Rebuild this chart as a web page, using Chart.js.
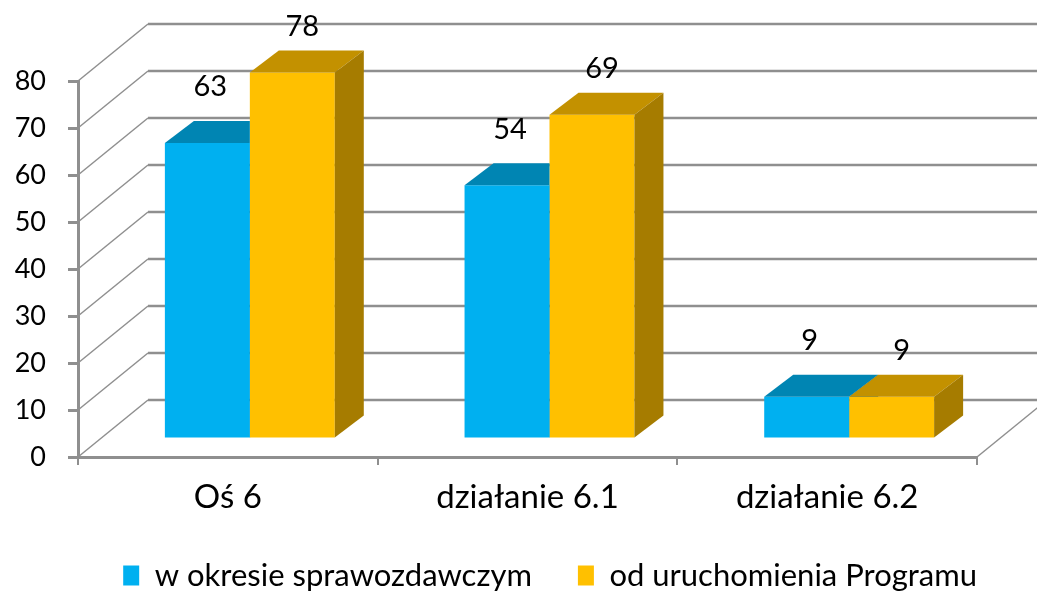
<!DOCTYPE html>
<html>
<head>
<meta charset="utf-8">
<script src="https://cdn.jsdelivr.net/npm/chart.js@4"></script>
<style>
  html, body { margin: 0; padding: 0; background: #fff; }
  #box { width: 1037px; height: 591px; }
</style>
</head>
<body>
<div id="box"><canvas id="chart"></canvas></div>
<script>
// Dane wykresu
const categories = ['Oś 6', 'działanie 6.1', 'działanie 6.2'];
const seriesNames = ['w okresie sprawozdawczym', 'od uruchomienia Programu'];
const okresValues = [63, 54, 9];
const programValues = [78, 69, 9];
const yMin = 0, yMax = 80, yStep = 10;

// kolory: przód, góra, bok
const blueFaces = ['#00B0F0', '#0085B3', '#006E96'];
const goldFaces = ['#FFC000', '#C39100', '#A67C00'];

// przesunięcia 3D
const wall = { dx: 70, dy: -57 };   // tylna ściana
const shift = { dx: 22, dy: -18 };  // płaszczyzna słupków
const depth = { dx: 29, dy: -22 };  // głębokość słupka
const labelShift = [{ dx: 3, dy: -56 }, { dx: 10, dy: -46 }];
const gridColor = '#8f8f8f';
const fontFamily = "Lato, 'Open Sans', sans-serif";

Chart.defaults.font.family = fontFamily;
Chart.defaults.color = '#000';

function faceBox(bar) {
    const p = bar.getProps(['x', 'y', 'width', 'base'], true);
    return { l: p.x - p.width / 2, r: p.x + p.width / 2, top: p.y, base: p.base, x: p.x };
}

function drawFaces(ctx, b, faces) {
    // góra
    ctx.fillStyle = faces[1];
    ctx.beginPath();
    ctx.moveTo(b.l, b.top);
    ctx.lineTo(b.r, b.top);
    ctx.lineTo(b.r + depth.dx, b.top + depth.dy);
    ctx.lineTo(b.l + depth.dx, b.top + depth.dy);
    ctx.closePath();
    ctx.fill();
    // bok
    ctx.fillStyle = faces[2];
    ctx.beginPath();
    ctx.moveTo(b.r, b.top);
    ctx.lineTo(b.r + depth.dx, b.top + depth.dy);
    ctx.lineTo(b.r + depth.dx, b.base + depth.dy);
    ctx.lineTo(b.r, b.base);
    ctx.closePath();
    ctx.fill();
}

// ściany, linie siatki i bryły słupków
const wallPlugin = {
    id: 'wall3d',
    beforeDatasetsDraw(chart) {
        const { ctx, chartArea: a, scales: { y } } = chart;
        ctx.save();
        ctx.strokeStyle = gridColor;
        y.ticks.forEach(t => {
            const py = y.getPixelForValue(t.value);
            ctx.lineWidth = 1.5;
            ctx.beginPath();
            ctx.moveTo(a.left, py);
            ctx.lineTo(a.left + wall.dx, py + wall.dy);
            ctx.stroke();
            ctx.lineWidth = 2.5;
            ctx.beginPath();
            ctx.moveTo(a.left + wall.dx, py + wall.dy);
            ctx.lineTo(chart.width, py + wall.dy);
            ctx.stroke();
        });
        // prawa krawędź podłogi
        ctx.lineWidth = 1.5;
        ctx.beginPath();
        ctx.moveTo(a.right, a.bottom);
        ctx.lineTo(a.right + wall.dx, a.bottom + wall.dy);
        ctx.stroke();
        ctx.restore();

        ctx.save();
        ctx.translate(shift.dx, shift.dy);
    },
    afterDatasetsDraw(chart) {
        const ctx = chart.ctx;
        const blueMeta = chart.getDatasetMeta(0);
        const goldMeta = chart.getDatasetMeta(1);
        categories.forEach((c, i) => {
            const bb = faceBox(blueMeta.data[i]);
            const gb = faceBox(goldMeta.data[i]);
            // niebieskie ściany nie mogą zasłaniać przodu złotego słupka
            ctx.save();
            ctx.beginPath();
            ctx.rect(-200, -200, chart.width + 400, chart.height + 400);
            ctx.rect(gb.l, gb.top, gb.r - gb.l, gb.base - gb.top);
            ctx.clip('evenodd');
            drawFaces(ctx, bb, blueFaces);
            ctx.restore();
            drawFaces(ctx, gb, goldFaces);
        });
        // etykiety wartości
        ctx.fillStyle = '#000';
        ctx.font = '29px ' + fontFamily;
        ctx.textAlign = 'center';
        ctx.textBaseline = 'middle';
        [blueMeta, goldMeta].forEach((meta, d) => {
            meta.data.forEach((bar, i) => {
                const b = faceBox(bar);
                const v = chart.data.datasets[d].data[i];
                ctx.fillText(v, b.x + labelShift[d].dx, b.top + labelShift[d].dy);
            });
        });
        ctx.restore();
    }
};

new Chart(document.getElementById('chart'), {
    type: 'bar',
    data: {
        labels: categories,
        datasets: [
            { label: seriesNames[0], data: okresValues, backgroundColor: blueFaces[0], clip: false },
            { label: seriesNames[1], data: programValues, backgroundColor: goldFaces[0], clip: false }
        ]
    },
    options: {
        responsive: true,
        maintainAspectRatio: false,
        animation: false,
        categoryPercentage: 0.567,
        barPercentage: 1.0,
        layout: { padding: { top: 81, right: 14, left: 0, bottom: -10 } },
        plugins: {
            legend: {
                position: 'bottom',
                align: 'end',
                labels: {
                    boxWidth: 16,
                    boxHeight: 20,
                    padding: 46,
                    font: { size: 31 }
                }
            },
            tooltip: { enabled: false }
        },
        scales: {
            x: {
                grid: { display: true, drawOnChartArea: false, tickLength: 8, color: gridColor, lineWidth: 2 },
                border: { display: true, color: gridColor, width: 3 },
                ticks: { font: { size: 33 }, padding: 13 },
                afterFit(scale) { scale.height = 57; }
            },
            y: {
                min: yMin,
                max: yMax,
                ticks: { stepSize: yStep, font: { size: 27 }, padding: 22 },
                grid: { display: true, drawOnChartArea: false, tickLength: 10, color: gridColor, lineWidth: 3 },
                border: { display: true, color: gridColor, width: 3 },
                afterFit(scale) { scale.width = 78; }
            },
            yRight: {
                position: 'right',
                display: true,
                ticks: { display: false },
                grid: { display: false },
                border: { display: false },
                afterFit(scale) { scale.width = 46; }
            }
        }
    },
    plugins: [wallPlugin]
});
</script>
</body>
</html>
